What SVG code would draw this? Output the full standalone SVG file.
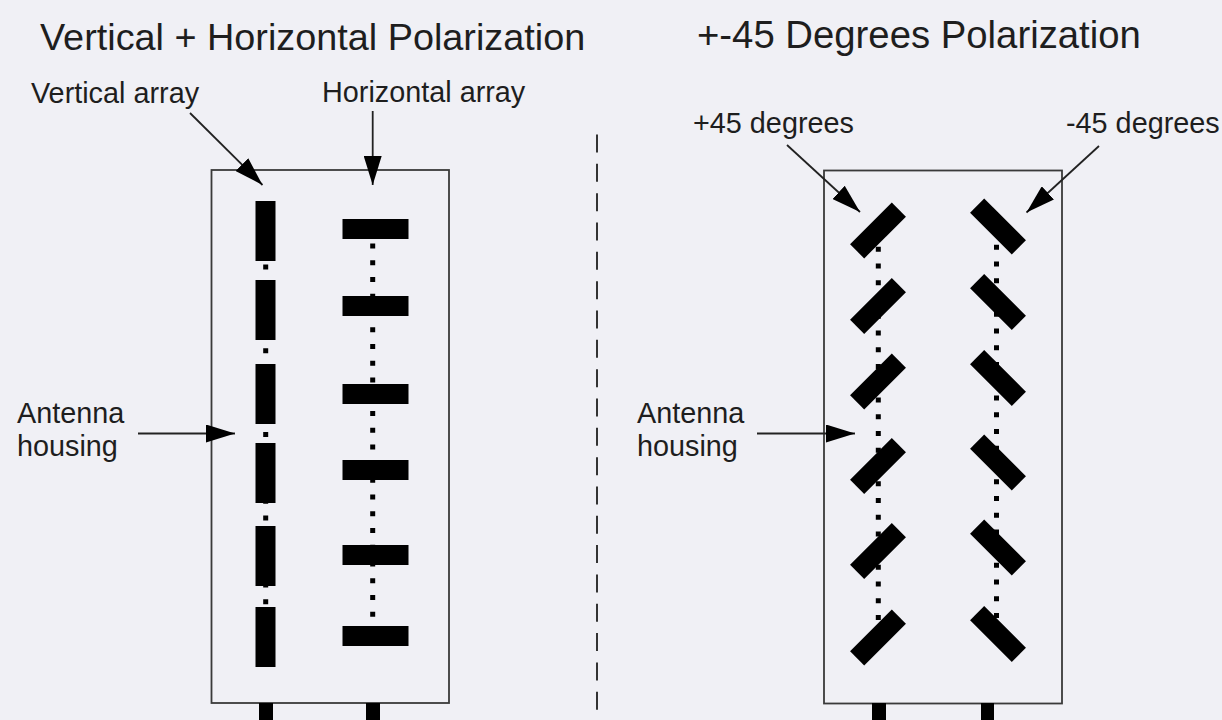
<svg xmlns="http://www.w3.org/2000/svg" xmlns:xlink="http://www.w3.org/1999/xlink" width="1222" height="720" viewBox="0 0 1222 720">
  <style>
    .title { font-family: "Liberation Sans", Arial, sans-serif; font-size: 37.8px; fill: #1e1e1e; }
    .label { font-family: "Liberation Sans", Arial, sans-serif; font-size: 28.8px; fill: #1e1e1e; }
    .box { fill: none; stroke: #3a3a3a; stroke-width: 1.8; }
    .el { fill: #000; }
    .dots { stroke: #000; stroke-width: 5; stroke-dasharray: 5 11.74; fill: none; }
    .arrow { stroke: #222; stroke-width: 1.8; fill: none; marker-end: url(#ah); }
    .divider { stroke: #333; stroke-width: 2; stroke-dasharray: 18 11.33; fill: none; }
  </style>
  <defs>
    <marker id="ah" viewBox="0 0 29 18" refX="29" refY="9" markerWidth="29" markerHeight="18" markerUnits="userSpaceOnUse" orient="auto">
      <path d="M0,0 L29,9 L0,18 Z" fill="#000"/>
    </marker>
    <rect id="vbar" x="0" y="0" width="20" height="60"/>
    <rect id="hbar" x="0" y="0" width="66" height="20"/>
    <rect id="dbar" x="-29.5" y="-10" width="59" height="20"/>
  </defs>

  <rect x="0" y="0" width="1222" height="720" fill="#f0f0f5"/>

  <g id="title-left"><text class="title" x="40" y="50">Vertical + Horizontal Polarization</text></g>
  <g id="title-right"><text class="title" x="697" y="48" style="font-size:38.3px">+-45 Degrees Polarization</text></g>

  <g id="divider"><line class="divider" x1="597" y1="134.5" x2="597" y2="710"/></g>

  <g id="label-vertical-array"><text class="label" x="31" y="103">Vertical array</text></g>
  <g id="label-horizontal-array"><text class="label" x="322" y="102">Horizontal array</text></g>
  <g id="label-housing-left"><text class="label" x="17" y="423">Antenna</text><text class="label" x="17" y="456">housing</text></g>
  <g id="label-plus45"><text class="label" x="693" y="133">+45 degrees</text></g>
  <g id="label-minus45"><text class="label" x="1066" y="133">-45 degrees</text></g>
  <g id="label-housing-right"><text class="label" x="637" y="423">Antenna</text><text class="label" x="637" y="456">housing</text></g>

  <g id="antenna-left">
    <rect class="box" x="211.5" y="170" width="237.5" height="533"/>
    <rect class="el" x="259" y="703" width="14" height="17"/>
    <rect class="el" x="366" y="703" width="14" height="17"/>
    <line class="dots" x1="265.7" y1="264.5" x2="265.7" y2="605"/>
    <line class="dots" x1="372.7" y1="243.5" x2="372.7" y2="617"/>
    <g id="vertical-array" class="el">
      <use xlink:href="#vbar" x="255.5" y="201"/>
      <use xlink:href="#vbar" x="255.5" y="280"/>
      <use xlink:href="#vbar" x="255.5" y="364"/>
      <use xlink:href="#vbar" x="255.5" y="443"/>
      <use xlink:href="#vbar" x="255.5" y="526"/>
      <use xlink:href="#vbar" x="255.5" y="607"/>
    </g>
    <g id="horizontal-array" class="el">
      <use xlink:href="#hbar" x="342.5" y="219"/>
      <use xlink:href="#hbar" x="342.5" y="296"/>
      <use xlink:href="#hbar" x="342.5" y="384"/>
      <use xlink:href="#hbar" x="342.5" y="460"/>
      <use xlink:href="#hbar" x="342.5" y="545"/>
      <use xlink:href="#hbar" x="342.5" y="626"/>
    </g>
  </g>

  <g id="antenna-right">
    <rect class="box" x="824" y="170.5" width="238" height="533"/>
    <rect class="el" x="872" y="703" width="14" height="17"/>
    <rect class="el" x="981" y="703" width="13" height="17"/>
    <line class="dots" x1="878.3" y1="246.8" x2="878.3" y2="621"/>
    <line class="dots" x1="996.5" y1="244.8" x2="996.5" y2="618"/>
    <g id="plus45-array" class="el">
      <use xlink:href="#dbar" transform="translate(878,230.5) rotate(-45)"/>
      <use xlink:href="#dbar" transform="translate(878,306) rotate(-45)"/>
      <use xlink:href="#dbar" transform="translate(878,381.5) rotate(-45)"/>
      <use xlink:href="#dbar" transform="translate(878,466) rotate(-45)"/>
      <use xlink:href="#dbar" transform="translate(878,551) rotate(-45)"/>
      <use xlink:href="#dbar" transform="translate(878,637.5) rotate(-45)"/>
    </g>
    <g id="minus45-array" class="el">
      <use xlink:href="#dbar" transform="translate(998,226.5) rotate(45)"/>
      <use xlink:href="#dbar" transform="translate(998,302) rotate(45)"/>
      <use xlink:href="#dbar" transform="translate(998,378) rotate(45)"/>
      <use xlink:href="#dbar" transform="translate(998,462.5) rotate(45)"/>
      <use xlink:href="#dbar" transform="translate(998,547.5) rotate(45)"/>
      <use xlink:href="#dbar" transform="translate(998,634) rotate(45)"/>
    </g>
  </g>

  <g id="connectors">
    <line class="arrow" x1="190" y1="113" x2="262.5" y2="185"/>
    <line class="arrow" x1="372.7" y1="111" x2="372.7" y2="185"/>
    <line class="arrow" x1="138" y1="433.5" x2="235" y2="433.5"/>
    <line class="arrow" x1="787" y1="145" x2="860" y2="212"/>
    <line class="arrow" x1="1099" y1="146" x2="1026.5" y2="212.5"/>
    <line class="arrow" x1="757" y1="433.5" x2="855" y2="433.5"/>
  </g>
</svg>
